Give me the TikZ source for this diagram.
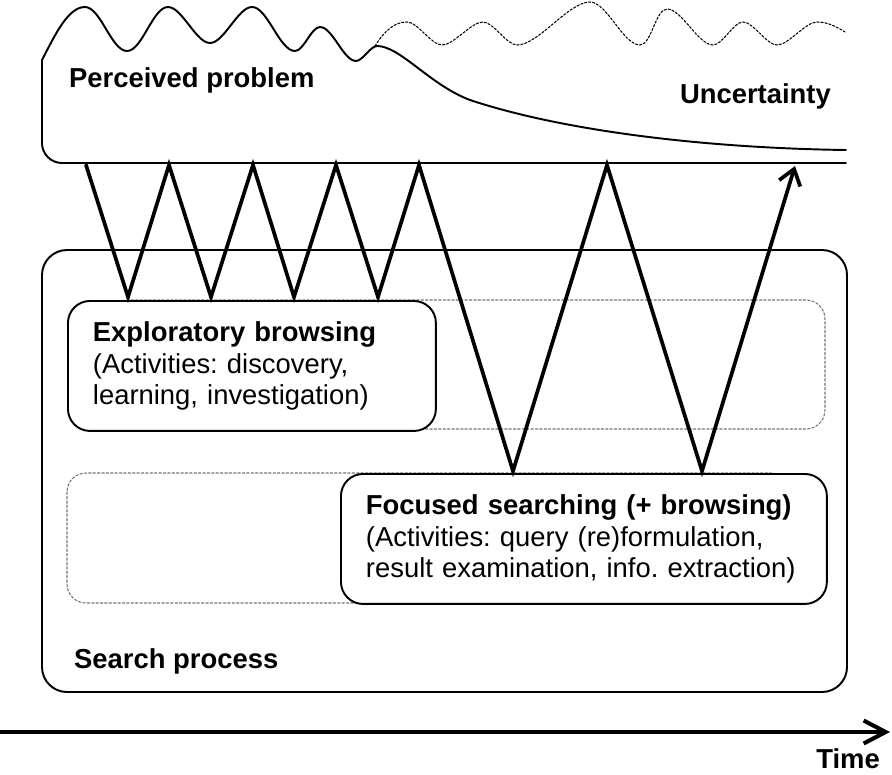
\documentclass[tikz,border=0pt]{standalone}
\usepackage{fontspec}
\setmainfont{Liberation Sans}
\usetikzlibrary{arrows.meta}
\newcommand{\labelsize}{\fontsize{15.6}{17.9}\selectfont}
\tikzset{
	outline/.style={line width=1.1pt},
	lane/.style={draw=black!55,line width=0.6pt,dash pattern=on 1.4pt off 1.1pt,rounded corners=0.38cm},
	stage/.style={draw,line width=1.1pt,fill=white,rounded corners=0.44cm,align=left,
		inner xsep=0.5cm,inner ysep=0pt,minimum height=2.6cm,anchor=north west},
	zigzag/.style={line width=2.1pt,line join=miter},
	faint/.style={line width=0.6pt,dash pattern=on 1.3pt off 1pt},
	title/.style={font=\labelsize\bfseries},
	wave/.style={out=0,in=180,looseness=0.65},
}
\begin{document}
\frenchspacing
\begin{tikzpicture}[x=0.02cm,y=-0.02cm,font=\labelsize,line join=round,line cap=round]
			\def \ytop{165}
			\def \yexp{297}
			\def \yfoc{471}
			\useasboundingbox (0,0) rectangle (892,774);
			\draw[outline,rounded corners=0.5cm] (42,250) rectangle (847,692);
			\draw[lane] (110,300) rectangle (825,429);
			\draw[lane] (67,473) rectangle (790,603);
			\node[stage,text width=6.36cm] (explore) at (67,300)
				{\textbf{Exploratory browsing}\\(Activities: discovery,\\learning, investigation)};
			\node[stage,text width=8.72cm] (focus) at (340,473)
				{\textbf{Focused searching (+ browsing)}\\(Activities: query (re)formulation,\\result examination, info. extraction)};
			\node[anchor=base west,title] (search) at (68,668) {Search process};
			\draw[outline,rounded corners=0.4cm] (846,163) -- (42,163) -- (42,60);
			\draw[outline] (42,60) .. controls (55,35) and (68,7) .. (85,7)
				to[wave] (127,51) to[wave] (168,7)
				to[wave] (210,43) to[wave] (252,7)
				to[wave] (295,51) to[wave] (320,27)
				to[wave] (356,61) to[wave] (377,46)
				.. controls (400,46) and (430,85) .. (470,100)
				.. controls (560,130) and (700,148) .. (846,150);
			\draw[faint] (375,46) .. controls (385,30) and (395,22) .. (407,22)
				to[wave] (442,45) to[wave] (483,22)
				to[wave] (517,45) to[wave] (590,2)
				to[wave] (640,45) to[wave] (667,9)
				to[wave] (713,45) to[wave] (743,22)
				to[wave] (777,45) to[wave] (817,22)
				.. controls (828,22) and (837,27) .. (845,32);
			\node[anchor=base west,title] (problem) at (63,87) {Perceived problem};
			\node[anchor=base east,title] (uncertainty) at (837,103) {Uncertainty};
			\foreach \x [count=\i] in {86,169,253,336,419,607}{
				\coordinate (t\i) at (\x,\ytop);	}
			\foreach \x [count=\i] in {128,211,294,378}{
				\coordinate (b\i) at (\x,\yexp);	}
			\coordinate (f1) at (513,\yfoc);
			\coordinate (f2) at (702,\yfoc);
			\coordinate (tip) at (795,166);
			\draw[zigzag,-{Straight Barb[length=3mm,width=4.4mm]}] (t1) -- (b1) -- (t2) -- (b2) -- (t3)
				-- (b3) -- (t4) -- (b4) -- (t5) -- (f1) -- (t6) -- (f2) -- (tip);
			\coordinate (start) at (0,732);
			\coordinate (end) at (890,732);
			\draw[line width=2.3pt,-{Straight Barb[length=4.4mm,width=4.6mm]}] (start) -- (end);
			\node[anchor=base east,title] (time) at (886,768) {Time};
		\end{tikzpicture}
\end{document}
